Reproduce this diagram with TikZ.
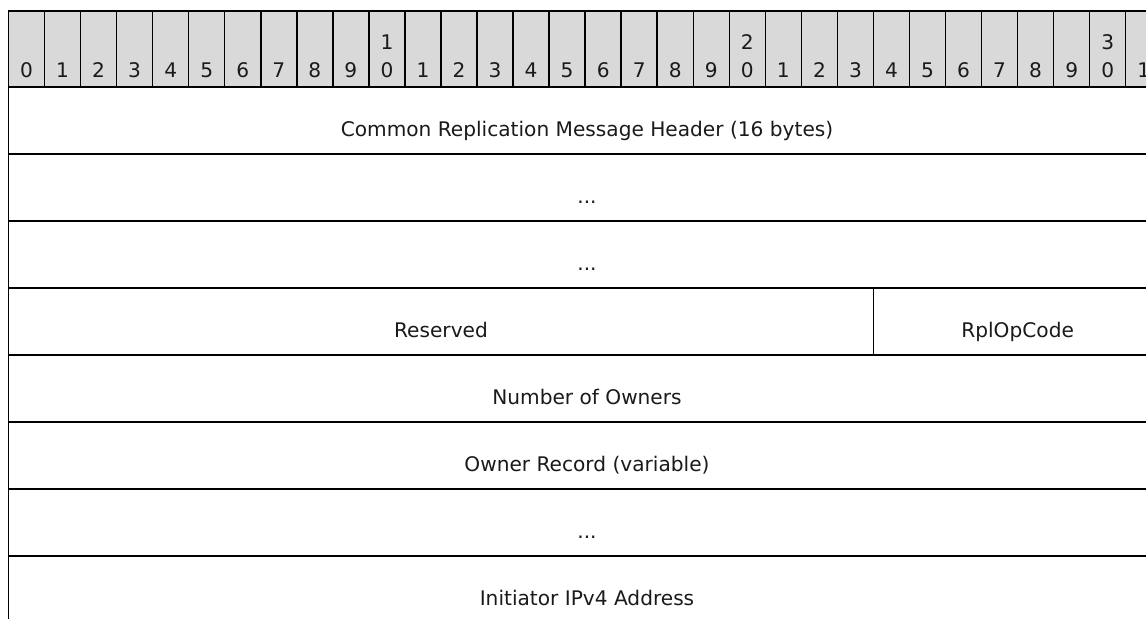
\documentclass[tikz,border=0pt]{standalone}
\usepackage{fontspec}
\setmainfont{DejaVu Sans}
\begin{document}
\begin{tikzpicture}[x=0.75pt,y=-0.75pt,
  hline/.style={line width=1.5pt,black},
  vline/.style={line width=1.1pt,black},
  hdrfill/.style={fill=hdrgray},
  dig/.style={anchor=base,inner sep=0pt,font=\fontsize{15.1}{18}\selectfont,text=txtcol},
  lbl/.style={anchor=base,inner sep=0pt,font=\fontsize{15.1}{18}\selectfont,text=txtcol}]
\definecolor{hdrgray}{HTML}{D9D9D9}
\definecolor{txtcol}{HTML}{1A1A1A}
\useasboundingbox (0,0) rectangle (1146,618);
\def\L{8.5}
\def\W{36.04}
\def\R{1161.8}
\begin{scope}
\clip (0,0) rectangle (1146,618);
\fill[hdrfill] (\L,11) rectangle (\R,87);
\foreach \i in {1,...,31} \draw[vline] ({\L+\i*\W},11) -- ({\L+\i*\W},87);
\draw[hline] (\L,11) -- (\R,11);
\foreach \r in {0,...,7} \draw[hline] (\L,{87+\r*67}) -- (\R,{87+\r*67});
\draw[vline] (\L,10) -- (\L,630);
\draw[vline] (\R,10) -- (\R,630);
\draw[vline] ({\L+24*\W},288) -- ({\L+24*\W},355);
% header digits
\foreach \i in {0,...,31} {
  \pgfmathtruncatemacro{\u}{mod(\i,10)}
  \node[dig] (b\i) at ({\L+(\i+0.5)*\W},77.3) {\u};
}
\node[dig] (t10) at ({\L+10.5*\W},49.3) {1};
\node[dig] (t20) at ({\L+20.5*\W},49.3) {2};
\node[dig] (t30) at ({\L+30.5*\W},49.3) {3};
% row labels
\node[lbl] (hdr) at (587,136) {Common Replication Message Header (16 bytes)};
\node[lbl] (dots1) at (587,203) {...};
\node[lbl] (dots2) at (587,270) {...};
\node[lbl] (res) at ({(\L+\L+24*\W)/2},337) {Reserved};
\node[lbl] (op) at ({(\L+24*\W+\R)/2},337) {RplOpCode};
\node[lbl] (num) at (587,404) {Number of Owners};
\node[lbl] (own) at (587,471) {Owner Record (variable)};
\node[lbl] (dots3) at (587,538) {...};
\node[lbl] (ip) at (587,605) {Initiator IPv4 Address};
\end{scope}
\end{tikzpicture}
\end{document}
